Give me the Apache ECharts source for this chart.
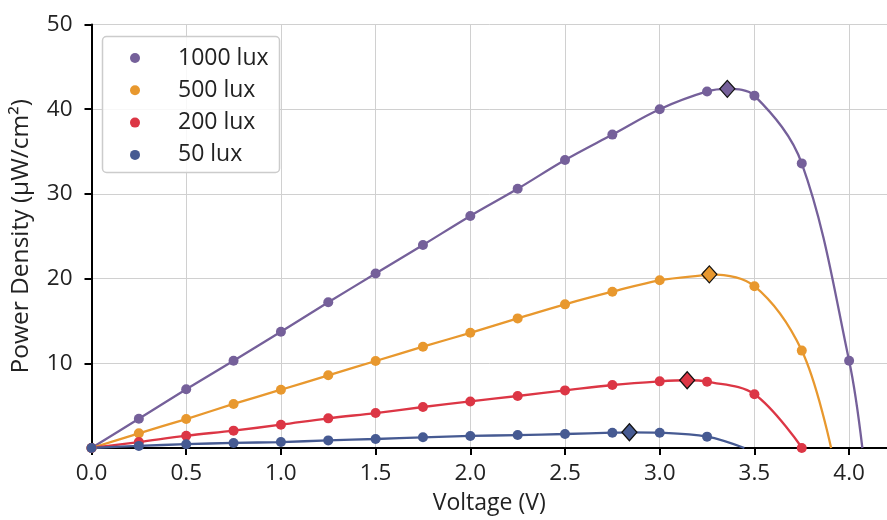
<!DOCTYPE html>
<html><head><meta charset="utf-8">
<script src="https://cdn.jsdelivr.net/npm/echarts@6/dist/echarts.min.js"></script>
<style>html,body{margin:0;padding:0;background:#fff}#c{width:887px;height:520px}</style>
</head><body><div id="c"></div>
<script>
var voltage = [0, 0.25, 0.5, 0.75, 1.0, 1.25, 1.5, 1.75, 2.0, 2.25, 2.5, 2.75, 3.0, 3.25, 3.5, 3.75, 4.0];
var p1000 = [0, 3.46, 6.93, 10.3, 13.73, 17.2, 20.6, 23.97, 27.4, 30.6, 34.0, 37.0, 40.0, 42.1, 41.6, 33.6, 10.3];
var p500  = [0, 1.73, 3.42, 5.2, 6.88, 8.58, 10.27, 11.96, 13.6, 15.3, 16.96, 18.45, 19.8, 20.45, 19.1, 11.5, null];
var p200  = [0, 0.7, 1.45, 2.05, 2.75, 3.5, 4.13, 4.84, 5.5, 6.14, 6.8, 7.44, 7.87, 7.83, 6.34, 0.0, null];
var p50   = [0, 0.25, 0.45, 0.6, 0.7, 0.9, 1.06, 1.26, 1.42, 1.53, 1.65, 1.81, 1.8, 1.34, null, null, null];
// maximum power points [V, P]
var mpp1000 = [3.357, 42.4];
var mpp500  = [3.262, 20.5];
var mpp200  = [3.145, 8.0];
var mpp50   = [2.84, 1.85];
// open-circuit voltage (curve reaches zero)
var voc = { '1000 lux': 4.07, '500 lux': 3.905, '200 lux': 3.752, '50 lux': 3.447 };
var names = ['1000 lux', '500 lux', '200 lux', '50 lux'];
var colors = ['#75609A', '#E8982E', '#DC3645', '#465A92'];
var values = [p1000, p500, p200, p50];
var mpps = [mpp1000, mpp500, mpp200, mpp50];

var FONT = 'Open Sans';
function pts(arr) {
  var out = [];
  for (var i = 0; i < voltage.length; i++) if (arr[i] !== null) out.push([voltage[i], arr[i]]);
  return out;
}
function linePts(arr, mpp, vz) {
  var p = pts(arr).filter(function (d) { return d[0] < vz - 0.02; });
  p.push(mpp.slice());
  p.push([vz, 0]);
  p.sort(function (a, b) { return a[0] - b[0]; });
  return p;
}
var series = [];
names.forEach(function (n, i) {
  series.push({
    name: n + ' fit', type: 'line', data: linePts(values[i], mpps[i], voc[n]),
    smooth: 0.35, showSymbol: false, symbol: 'none',
    lineStyle: { color: colors[i], width: 2.3 }, z: 2, silent: true
  });
});
names.forEach(function (n, i) {
  series.push({
    name: n, type: 'scatter', data: pts(values[i]), symbol: 'circle', symbolSize: 10,
    itemStyle: { color: colors[i], opacity: 1 }, z: 3
  });
});
names.forEach(function (n, i) {
  series.push({
    name: n + ' MPP', type: 'scatter', data: [mpps[i]], symbol: 'diamond', symbolSize: [15, 17],
    itemStyle: { color: colors[i], borderColor: '#111', borderWidth: 1.3, opacity: 1 }, z: 4
  });
});

var chart = echarts.init(document.getElementById('c'), null, { renderer: 'canvas' });
chart.setOption({
  animation: false,
  backgroundColor: '#fff',
  textStyle: { fontFamily: FONT },
  grid: { left: 91.5, right: 0, top: 24.5, bottom: 72, containLabel: false },
  xAxis: [{
    type: 'value', min: 0, max: 4.2, interval: 0.5,
    name: 'Voltage (V)', nameLocation: 'middle', nameGap: 44,
    nameTextStyle: { fontFamily: FONT, fontSize: 23, color: '#222' },
    axisLine: { show: true, onZero: false, lineStyle: { color: '#000', width: 2 } },
    axisTick: { show: true, inside: false, length: 7, lineStyle: { color: '#000', width: 2 } },
    axisLabel: { fontFamily: FONT, fontSize: 22.5, color: '#222', margin: 14, showMaxLabel: false,
      formatter: function (v) { return v.toFixed(1); } },
    splitLine: { show: true, lineStyle: { color: '#d0d0d0', width: 1 } }
  }, {
    type: 'value', min: 0, max: 4.2, position: 'top',
    axisLine: { show: true, lineStyle: { color: '#000', width: 2 } },
    axisTick: { show: false }, axisLabel: { show: false }, splitLine: { show: false }
  }],
  yAxis: {
    type: 'value', min: 0, max: 50, interval: 10,
    name: 'Power Density (μW/cm²)', nameLocation: 'middle', nameGap: 58,
    nameTextStyle: { fontFamily: FONT, fontSize: 24.5, color: '#222' },
    axisLine: { show: true, lineStyle: { color: '#000', width: 2 } },
    axisTick: { show: true, inside: false, length: 7, lineStyle: { color: '#000', width: 2 } },
    axisLabel: { fontFamily: FONT, fontSize: 22.5, color: '#222', margin: 19, showMinLabel: false },
    splitLine: { show: true, lineStyle: { color: '#d0d0d0', width: 1 } }
  },
  legend: {
    data: names, orient: 'vertical', left: 130, top: 46.5, padding: 0,
    icon: 'circle', itemWidth: 20, itemHeight: 10, itemGap: 9.3,
    textStyle: { fontFamily: FONT, fontSize: 23, color: '#222', padding: [0, 0, 0, 28], lineHeight: 22 },
    z: 6
  },
  graphic: [{
    type: 'rect', shape: { x: 102.5, y: 36.5, width: 177, height: 136, r: 4 },
    style: { fill: 'rgba(255,255,255,0.85)', stroke: '#cccccc', lineWidth: 1.5 }, z: 5
  }],
  series: series
});
</script></body></html>
